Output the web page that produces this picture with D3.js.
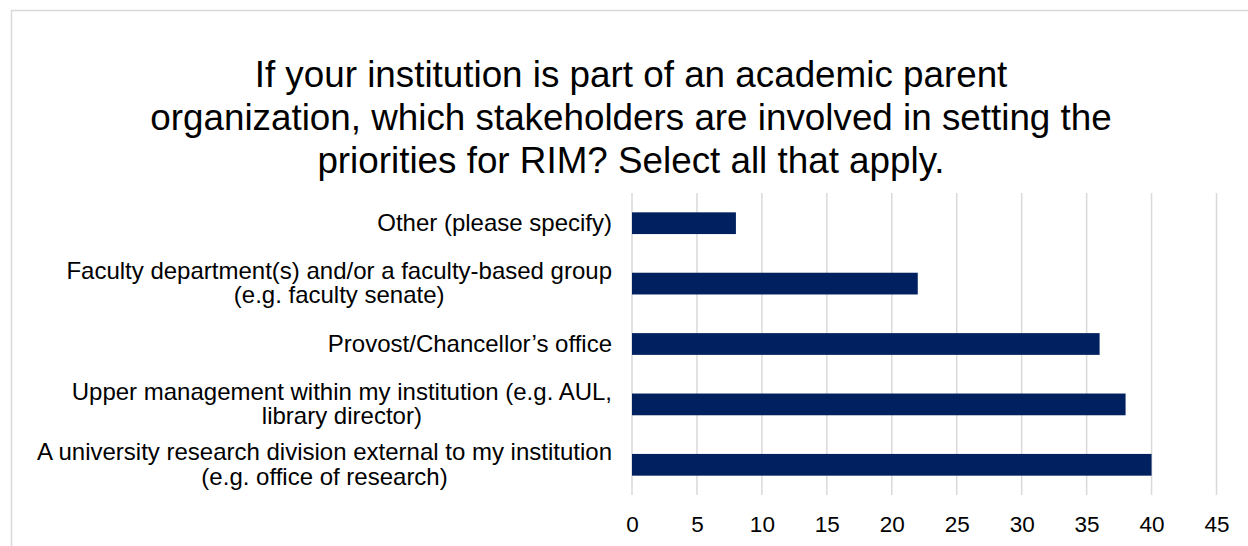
<!DOCTYPE html>
<html>
<head>
<meta charset="utf-8">
<script src="https://cdn.jsdelivr.net/npm/d3@7"></script>
<style>
  html, body { margin: 0; padding: 0; background: #fff; }
  svg { display: block; font-family: "Liberation Sans", Arial, sans-serif; }
</style>
</head>
<body>
<svg id="chart" width="1248" height="546"></svg>
<script>
// Survey responses: stakeholders involved in setting RIM priorities
const categories = [
  ["Other (please specify)"],
  ["Faculty department(s) and/or a faculty-based group", "(e.g. faculty senate)"],
  ["Provost/Chancellor\u2019s office"],
  ["Upper management within my institution (e.g. AUL,", "library director)"],
  ["A university research division external to my institution", "(e.g. office of research)"]
];
const counts = [8, 22, 36, 38, 40];
const tickValues = [0, 5, 10, 15, 20, 25, 30, 35, 40, 45];
const titleLines = [
  "If your institution is part of an academic parent",
  "organization, which stakeholders are involved in setting the",
  "priorities for RIM? Select all that apply."
];

const svg = d3.select("#chart");
const W = 1248, H = 546;
const margin = { left: 632, right: 32, top: 193, bottom: 51 };

// outer chart frame
svg.append("rect")
  .attr("x", 11.5).attr("y", 10.5)
  .attr("width", W + 20).attr("height", H + 20)
  .attr("fill", "#fff").attr("stroke", "#d9d9d9").attr("stroke-width", 1.5);

// title
svg.append("g").selectAll("text").data(titleLines).join("text")
  .attr("x", 631)
  .attr("y", (d, i) => 87 + i * 43)
  .attr("text-anchor", "middle")
  .attr("font-size", 36.8)
  .attr("fill", "#000")
  .text(d => d);

const x = d3.scaleLinear().domain([0, 45]).range([margin.left, W - margin.right + 0.5]);
const y = d3.scaleBand()
  .domain(d3.range(categories.length))
  .range([margin.top, H - margin.bottom])
  .paddingInner(0.64).paddingOuter(0.32);

// vertical gridlines
svg.append("g").selectAll("line").data(tickValues).join("line")
  .attr("x1", d => x(d)).attr("x2", d => x(d))
  .attr("y1", margin.top).attr("y2", H - margin.bottom)
  .attr("stroke", "#d9d9d9").attr("stroke-width", 1.5);

// bars
svg.append("g").selectAll("rect").data(counts).join("rect")
  .attr("x", x(0))
  .attr("y", (d, i) => y(i))
  .attr("width", d => x(d) - x(0))
  .attr("height", y.bandwidth())
  .attr("fill", "#002060");

// x axis tick labels
const xAxis = d3.axisBottom(x).tickValues(tickValues).tickSize(0).tickPadding(21);
const gx = svg.append("g")
  .attr("transform", `translate(0,${H - margin.bottom})`)
  .call(xAxis);
gx.select(".domain").remove();
gx.selectAll("text").attr("font-size", 22.5).attr("fill", "#000")
  .attr("font-family", "Liberation Sans, Arial, sans-serif");

// category labels: centered multi-line blocks, right-aligned to the plot
const labelRight = 612;
const lineH = 24.5;
const lg = svg.append("g");
categories.forEach((lines, i) => {
  const cy = y(i) + y.bandwidth() / 2;
  const t = lg.append("text")
    .attr("font-size", 24).attr("fill", "#000")
    .attr("text-anchor", "middle");
  lines.forEach((s, j) => {
    t.append("tspan").attr("x", 0)
      .attr("y", cy + (j - (lines.length - 1) / 2) * lineH + 7.5)
      .text(s);
  });
  const bw = t.node().getBBox().width;
  t.attr("transform", `translate(${labelRight - bw / 2},0)`);
});
</script>
</body>
</html>
